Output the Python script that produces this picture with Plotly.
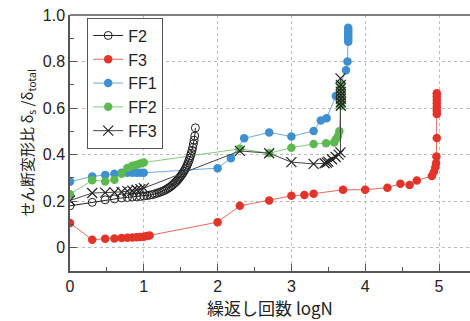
import plotly.graph_objects as go

# ---------------- data (logN , shear deformation ratio) ----------------
f2_x = [0.000, 0.301, 0.477, 0.602, 0.699, 0.778, 0.845, 0.903, 0.954, 1.000,
        1.041, 1.079, 1.114, 1.146, 1.176, 1.204, 1.230, 1.255, 1.279, 1.301,
        1.322, 1.342, 1.362, 1.380, 1.398, 1.415, 1.431, 1.447, 1.462, 1.477,
        1.491, 1.505, 1.519, 1.531, 1.544, 1.556, 1.568, 1.580, 1.591, 1.602,
        1.613, 1.623, 1.633, 1.643, 1.653, 1.663, 1.672, 1.681, 1.690, 1.699]
f2_y = [0.180, 0.195, 0.206, 0.210, 0.214, 0.216, 0.218, 0.219, 0.220, 0.222,
        0.224, 0.226, 0.228, 0.231, 0.234, 0.237, 0.240, 0.243, 0.246, 0.250,
        0.254, 0.258, 0.262, 0.267, 0.272, 0.277, 0.282, 0.287, 0.292, 0.298,
        0.304, 0.310, 0.316, 0.322, 0.328, 0.335, 0.342, 0.350, 0.358, 0.366,
        0.375, 0.385, 0.395, 0.406, 0.418, 0.431, 0.446, 0.462, 0.480, 0.515]

f3_x = [0.000, 0.301, 0.477, 0.602, 0.699, 0.778, 0.845, 0.903, 0.954, 1.000,
        1.041, 1.079, 2.000, 2.301, 2.699, 3.000, 3.176, 3.301, 3.699, 4.000,
        4.301, 4.477, 4.602, 4.699, 4.903, 4.930, 4.950, 4.960, 4.965, 4.970,
        4.970, 4.970, 4.970, 4.970, 4.970, 4.970, 4.970]
f3_y = [0.106, 0.034, 0.039, 0.040, 0.042, 0.043, 0.044, 0.045, 0.046, 0.047,
        0.050, 0.053, 0.110, 0.180, 0.203, 0.223, 0.227, 0.232, 0.249, 0.249,
        0.258, 0.275, 0.270, 0.289, 0.308, 0.325, 0.345, 0.363, 0.392, 0.471,
        0.575, 0.590, 0.605, 0.620, 0.635, 0.650, 0.664]

ff1_x = [0.000, 0.301, 0.477, 0.602, 0.699, 0.778, 0.845, 0.903, 0.954, 1.000,
         2.000, 2.180, 2.360, 2.699, 3.000, 3.301, 3.398, 3.477, 3.602, 3.740,
         3.760, 3.770, 3.770, 3.770, 3.770, 3.770, 3.770, 3.770]
ff1_y = [0.284, 0.306, 0.313, 0.318, 0.322, 0.322, 0.322, 0.322, 0.322, 0.322,
         0.342, 0.385, 0.470, 0.495, 0.478, 0.502, 0.547, 0.556, 0.652, 0.763,
         0.800, 0.885, 0.895, 0.905, 0.915, 0.925, 0.935, 0.945]

ff2_x = [0.000, 0.301, 0.477, 0.602, 0.699, 0.778, 0.845, 0.903, 0.954, 1.000,
         2.301, 2.699, 3.000, 3.301, 3.470, 3.580, 3.600, 3.630, 3.650, 3.670,
         3.670, 3.670, 3.670, 3.670, 3.670]
ff2_y = [0.230, 0.290, 0.285, 0.292, 0.318, 0.343, 0.352, 0.357, 0.362, 0.366,
         0.425, 0.406, 0.430, 0.446, 0.449, 0.452, 0.465, 0.480, 0.500, 0.610,
         0.628, 0.646, 0.664, 0.682, 0.700]

ff3_x = [0.000, 0.301, 0.477, 0.602, 0.699, 0.778, 0.845, 0.903, 0.954, 1.000,
         2.301, 2.699, 3.000, 3.301, 3.450, 3.480, 3.500, 3.550, 3.600, 3.640,
         3.665, 3.670, 3.670, 3.670, 3.670, 3.670, 3.670, 3.670, 3.665]
ff3_y = [0.203, 0.235, 0.237, 0.238, 0.240, 0.243, 0.245, 0.249, 0.252, 0.256,
         0.416, 0.406, 0.368, 0.360, 0.363, 0.366, 0.370, 0.380, 0.390, 0.400,
         0.410, 0.610, 0.625, 0.640, 0.655, 0.670, 0.685, 0.700, 0.728]

y_tickvals = [0, 0.2, 0.4, 0.6, 0.8, 1.0]
y_ticktext = ["0", "0.2", "0.4", "0.6", "0.8", "1.0"]
x_tickvals = [0, 1, 2, 3, 4, 5]
x_ticktext = ["0", "1", "2", "3", "4", "5"]

RED = "#e3342a"
BLUE = "#3d8fd1"
GREEN = "#5cb94f"
BLACK = "#222222"

fig = go.Figure()
fig.add_trace(go.Scatter(
    x=f3_x, y=f3_y, name="F3", mode="lines+markers",
    line=dict(color="#e06a60", width=1),
    marker=dict(symbol="circle", size=8.5, color=RED)))
fig.add_trace(go.Scatter(
    x=ff1_x, y=ff1_y, name="FF1", mode="lines+markers",
    line=dict(color="#6fa9d8", width=1),
    marker=dict(symbol="circle", size=8.5, color=BLUE)))
fig.add_trace(go.Scatter(
    x=ff2_x, y=ff2_y, name="FF2", mode="lines+markers",
    line=dict(color="#86c97c", width=1),
    marker=dict(symbol="circle", size=8.5, color=GREEN)))
fig.add_trace(go.Scatter(
    x=f2_x, y=f2_y, name="F2", mode="lines+markers",
    line=dict(color=BLACK, width=1),
    marker=dict(symbol="circle-open", size=8, color=BLACK, line=dict(width=1))))
fig.add_trace(go.Scatter(
    x=ff3_x, y=ff3_y, name="FF3", mode="lines+markers",
    line=dict(color="#444444", width=1),
    marker=dict(symbol="x-thin-open", size=10, color=BLACK, line=dict(width=1.2, color=BLACK))))

# legend order F2, F3, FF1, FF2, FF3
order = {"F2": 1, "F3": 2, "FF1": 3, "FF2": 4, "FF3": 5}
for tr in fig.data:
    tr.legendrank = order[tr.name]

axis_font = dict(family="Liberation Sans, Arial, sans-serif", size=16, color="#222")
fig.update_layout(
    width=470, height=321,
    margin=dict(l=70, r=0, t=15, b=50),
    paper_bgcolor="white", plot_bgcolor="white",
    font=axis_font,
    showlegend=True,
    legend=dict(x=0.043, y=0.99, xanchor="left", yanchor="top",
                bgcolor="white", bordercolor="#555", borderwidth=1,
                font=dict(family="Liberation Sans, Arial, sans-serif", size=16, color="#222"),
                tracegroupgap=0, itemwidth=30),
    xaxis=dict(range=[0, 5.42], tickvals=x_tickvals, ticktext=x_ticktext,
               showline=True, linecolor="#555", linewidth=1.5,
               ticks="inside", ticklen=7, tickcolor="#555", tickwidth=1.2,
               showgrid=True, gridcolor="#bbbbbb", griddash="dot", gridwidth=1,
               zeroline=False,
               minor=dict(dtick=0.5, ticks="inside", ticklen=4, tickcolor="#555", showgrid=False),
               title=dict(text="繰返し回数 logN", standoff=9,
                          font=dict(family="Noto Sans CJK JP, sans-serif", size=17, color="#222"))),
    yaxis=dict(range=[-0.1, 1.0], tickvals=y_tickvals, ticktext=y_ticktext,
               showline=True, linecolor="#555", linewidth=1.5,
               ticks="inside", ticklen=7, tickcolor="#555", tickwidth=1.2,
               showgrid=True, gridcolor="#bbbbbb", griddash="dot", gridwidth=1,
               zeroline=False,
               minor=dict(dtick=0.1, tick0=0.1, ticks="inside", ticklen=4, tickcolor="#555", showgrid=False),
               title=dict(text="せん断変形比 δ<sub>s</sub> /δ<sub>total</sub>", standoff=6,
                          font=dict(family="Noto Sans CJK JP, sans-serif", size=15, color="#222"))),
)
# top frame line
fig.add_shape(type="line", xref="paper", yref="paper", x0=0, x1=1, y0=1, y1=1,
              line=dict(color="#555", width=1.5))

fig.write_html("out.html")
